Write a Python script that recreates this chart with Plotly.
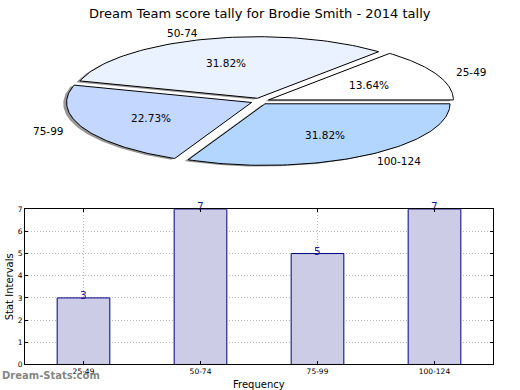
import math
import plotly.graph_objects as go

# ---- data ----
categories = ["25-49", "50-74", "75-99", "100-124"]
counts = [3, 7, 5, 7]
pie_colors = ["#ffffff", "#eaf1ff", "#c4d7ff", "#b3d6ff"]
title_text = "Dream Team score tally for Brodie Smith - 2014 tally"
y_ticks = [0, 1, 2, 3, 4, 5, 6, 7]

W, H = 520, 390
FONT = "DejaVu Sans"

def py(p):  # pixel y -> paper
    return 1 - p / H

def px(p):
    return p / W

fig = go.Figure()

# ---- pie drawn as elliptical wedges (matplotlib-like, exploded, with shadow) ----
explode = 0.05
total = sum(counts)
angles = []
a = 0.0
for v in counts:
    span = 360.0 * v / total
    angles.append((a, a + span))
    a += span

def wedge(t1, t2, cx, cy, n=80):
    xs, ys = [cx], [cy]
    for i in range(n + 1):
        t = math.radians(t1 + (t2 - t1) * i / n)
        xs.append(cx + math.cos(t))
        ys.append(cy + math.sin(t))
    xs.append(cx); ys.append(cy)
    return xs, ys

# shadows
for (t1, t2) in angles:
    mid = math.radians((t1 + t2) / 2)
    cx, cy = explode * math.cos(mid) - 0.018, explode * math.sin(mid) - 0.02
    xs, ys = wedge(t1, t2, cx, cy)
    fig.add_trace(go.Scatter(x=xs, y=ys, mode="lines", fill="toself",
                             fillcolor="rgba(80,80,80,0.6)", line=dict(width=0),
                             xaxis="x2", yaxis="y2", hoverinfo="skip", showlegend=False))

annotations = []
for cat, v, col, (t1, t2) in zip(categories, counts, pie_colors, angles):
    mid = math.radians((t1 + t2) / 2)
    cx, cy = explode * math.cos(mid), explode * math.sin(mid)
    xs, ys = wedge(t1, t2, cx, cy)
    fig.add_trace(go.Scatter(x=xs, y=ys, mode="lines", fill="toself",
                             fillcolor=col, line=dict(color="black", width=1),
                             xaxis="x2", yaxis="y2", hoverinfo="skip", showlegend=False))
    # category label
    lx, ly = 1.1 * math.cos(mid) + cx, 1.1 * math.sin(mid) + cy
    annotations.append(dict(x=lx, y=ly, xref="x2", yref="y2", text=cat, showarrow=False,
                            xanchor="left" if lx > 0 else "right", yanchor="middle",
                            font=dict(family=FONT, size=10.5, color="black")))
    # percentage
    pxl, pyl = 0.6 * math.cos(mid) + cx, 0.6 * math.sin(mid) + cy
    annotations.append(dict(x=pxl, y=pyl, xref="x2", yref="y2",
                            text="%.2f%%" % (100.0 * v / total), showarrow=False,
                            xanchor="center", yanchor="middle",
                            font=dict(family=FONT, size=10.5, color="black")))

# ---- bar chart ----
fig.add_trace(go.Bar(x=categories, y=counts, width=0.45,
                     marker=dict(color="#ccccE6", line=dict(color="#000080", width=1)),
                     xaxis="x", yaxis="y", hoverinfo="skip", showlegend=False))
for cat, v in zip(categories, counts):
    annotations.append(dict(x=cat, y=v, xref="x", yref="y", text=str(v), showarrow=False,
                            yanchor="middle", yshift=3,
                            font=dict(family=FONT, size=10.5, color="#1a1a99")))

# titles and texts
annotations.append(dict(x=0.5, y=py(10), xref="paper", yref="paper", text=title_text,
                        showarrow=False, xanchor="center", yanchor="middle",
                        font=dict(family=FONT, size=13, color="black")))
annotations.append(dict(x=px(9), y=py(290), xref="paper", yref="paper", text="Stat Intervals",
                        showarrow=False, textangle=-90, xanchor="center", yanchor="middle",
                        font=dict(family=FONT, size=10, color="black")))
annotations.append(dict(x=px(259), y=py(382), xref="paper", yref="paper", text="Frequency",
                        showarrow=False, xanchor="center", yanchor="top",
                        font=dict(family=FONT, size=10, color="black")))
annotations.append(dict(x=0, y=py(380), xref="paper", yref="paper", text="<b>Dream-Stats.com</b>",
                        showarrow=False, xanchor="left", yanchor="middle",
                        font=dict(family=FONT, size=10, color="rgba(110,110,110,0.85)")))

rx, ry = 185.0, 63.0
ccx, ccy = 260.0, 99.5
pie_top, pie_bot = 0.0, 200.0

fig.update_layout(
    width=W, height=H, margin=dict(l=0, r=0, t=0, b=0),
    paper_bgcolor="white", plot_bgcolor="white",
    annotations=annotations,
    xaxis=dict(domain=[px(25), px(493)], range=[-0.5, 3.5], type="category",
               showline=True, linecolor="black", linewidth=1, mirror="ticks",
               ticks="inside", ticklen=3, tickcolor="black",
               showgrid=True, gridcolor="#b8b8b8", griddash="1px,2px", gridwidth=1,
               tickfont=dict(family=FONT, size=7.5, color="black"), zeroline=False),
    yaxis=dict(domain=[py(369), py(210)], range=[0, 7], tickvals=y_ticks,
               showline=True, linecolor="black", linewidth=1, mirror="ticks",
               ticks="inside", ticklen=3, tickcolor="black",
               showgrid=True, gridcolor="#b8b8b8", griddash="1px,2px", gridwidth=1,
               tickfont=dict(family=FONT, size=7.5, color="black"), zeroline=False),
    xaxis2=dict(domain=[0, 1], range=[-ccx / rx, (W - ccx) / rx], visible=False,
                fixedrange=True),
    yaxis2=dict(domain=[py(pie_bot), py(pie_top)],
                range=[-(pie_bot - ccy) / ry, (ccy - pie_top) / ry], visible=False,
                fixedrange=True),
)

fig.write_html("out.html", post_script="document.body.style.margin='0';",
               config={"displayModeBar": False})
